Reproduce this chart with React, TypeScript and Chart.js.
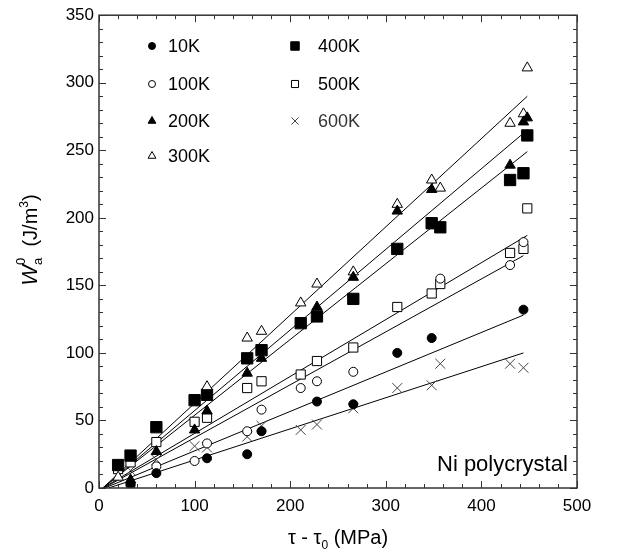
import React, { useEffect, useRef } from 'react';
import { Chart, registerables } from 'chart.js';
import { drawPoint } from 'chart.js/helpers';

Chart.register(...registerables);

const FONT = '"Liberation Sans", Arial, Helvetica, sans-serif';

// Series labels (temperatures)
const seriesLabels = ['10K', '100K', '200K', '300K', '400K', '500K', '600K'];

// Data (x = tau - tau0 in MPa, y = Wa0 in J/m^3)
const x10K = [33, 60, 113, 155, 170, 228, 266, 312, 348, 444];
const y10K = [3, 11, 22, 25, 42, 64, 62, 100, 111, 132];
const x100K = [33, 60, 100, 113, 155, 170, 211, 228, 266, 357, 430, 444];
const y100K = [2, 16, 20, 33, 42, 58, 74, 79, 86, 155, 165, 182];
const x200K = [33, 60, 100, 113, 155, 170, 228, 266, 312, 348, 430, 444, 448];
const y200K = [6, 27, 43, 57, 85, 96, 134, 156, 205, 221, 239, 271, 274];
const x300K = [20, 113, 155, 170, 211, 228, 266, 312, 348, 357, 430, 444, 448];
const y300K = [8, 75, 111, 116, 137, 151, 160, 210, 228, 222, 270, 277, 311];
const x400K = [20, 33, 60, 100, 113, 155, 170, 211, 228, 266, 312, 348, 357, 430, 444, 448];
const y400K = [17, 24, 45, 65, 69, 96, 102, 122, 127, 140, 177, 196, 193, 228, 233, 261];
const x500K = [20, 33, 60, 100, 113, 155, 170, 211, 228, 266, 312, 348, 357, 430, 444, 448];
const y500K = [14, 19, 34, 49, 52, 74, 79, 84, 94, 104, 134, 144, 151, 174, 177, 207];
const x600K = [20, 33, 60, 100, 113, 155, 170, 211, 228, 266, 312, 348, 357, 430, 444];
const y600K = [14, 13, 21, 31, 30, 38, 46, 43, 47, 59, 74, 76, 92, 92, 89];

// Fitted straight lines, endpoints (same order as labels)
const lineStartX = [6, 5, 4, 4, 4, 4, 10];
const lineStartY = [0, 0, 0, 0, 0, 0, 0];
const lineEndX = [444, 444, 448, 448, 448, 448, 444];
const lineEndY = [128, 172, 265, 290, 249, 187, 100];

// Axis ticks
const xTickStep = 100;
const xMinorStep = 20;
const yTickStep = 50;
const yMinorStep = 10;

const allX = [x10K, x100K, x200K, x300K, x400K, x500K, x600K];
const allY = [y10K, y100K, y200K, y300K, y400K, y500K, y600K];

type Style = { pointStyle: any; radius: number; bg: string; border: string; bw: number; legendRadius: number };
const styles: Style[] = [
  { pointStyle: 'circle', radius: 4.5, bg: '#000', border: '#000', bw: 1, legendRadius: 3.5 },
  { pointStyle: 'circle', radius: 4.5, bg: '#fff', border: '#000', bw: 1, legendRadius: 3.5 },
  { pointStyle: 'triangle', radius: 6, bg: '#000', border: '#000', bw: 1, legendRadius: 4.5 },
  { pointStyle: 'triangle', radius: 6, bg: '#fff', border: '#000', bw: 1, legendRadius: 4.5 },
  { pointStyle: 'rect', radius: 8, bg: '#000', border: '#000', bw: 1, legendRadius: 6 },
  { pointStyle: 'rect', radius: 6.5, bg: '#fff', border: '#000', bw: 1, legendRadius: 5 },
  { pointStyle: 'crossRot', radius: 7, bg: '#444', border: '#444', bw: 1, legendRadius: 5 },
];

// Legend layout: [marker x, text x] per column, row y
const legendCols = [[152, 168], [295, 318]];
const legendRows = [46, 84, 121, 156];

type Seg = { t: string; font: string; dy: number; stackWith?: { t: string; font: string; dy: number } };

function drawSegs(ctx: CanvasRenderingContext2D, segs: Seg[], cx: number, y: number) {
  const widths = segs.map((s) => {
    ctx.font = s.font;
    let w = ctx.measureText(s.t).width;
    if (s.stackWith) {
      ctx.font = s.stackWith.font;
      w = Math.max(w, ctx.measureText(s.stackWith.t).width);
    }
    return w;
  });
  const total = widths.reduce((a, b) => a + b, 0);
  let x = cx - total / 2;
  segs.forEach((s, i) => {
    ctx.font = s.font;
    ctx.fillText(s.t, x, y + s.dy);
    if (s.stackWith) {
      ctx.font = s.stackWith.font;
      ctx.fillText(s.stackWith.t, x, y + s.stackWith.dy);
    }
    x += widths[i];
  });
}

const decorPlugin = {
  id: 'decor',
  afterDraw(chart: any) {
    const ctx: CanvasRenderingContext2D = chart.ctx;
    const { left, right, top, bottom } = chart.chartArea;
    const xs = chart.scales.x;
    const ys = chart.scales.y;
    ctx.save();
    // frame
    ctx.strokeStyle = '#333';
    ctx.lineWidth = 1.5;
    ctx.strokeRect(left, top, right - left, bottom - top);
    ctx.lineWidth = 1;
    ctx.beginPath();
    for (let v = xs.min; v <= xs.max + 1e-9; v += xMinorStep) {
      const px = Math.round(xs.getPixelForValue(v)) + 0.5;
      const len = Math.abs(v % xTickStep) < 1e-9 ? 7 : 4;
      ctx.moveTo(px, bottom);
      ctx.lineTo(px, bottom - len);
      ctx.moveTo(px, top);
      ctx.lineTo(px, top + len);
    }
    for (let v = ys.min; v <= ys.max + 1e-9; v += yMinorStep) {
      const py = Math.round(ys.getPixelForValue(v)) + 0.5;
      const len = Math.abs(v % yTickStep) < 1e-9 ? 7 : 4;
      ctx.moveTo(left, py);
      ctx.lineTo(left + len, py);
      ctx.moveTo(right, py);
      ctx.lineTo(right - len, py);
    }
    ctx.stroke();

    // legend
    ctx.textBaseline = 'middle';
    ctx.textAlign = 'left';
    ctx.font = `18px ${FONT}`;
    seriesLabels.forEach((lab, i) => {
      const col = i < 4 ? 0 : 1;
      const row = i < 4 ? i : i - 4;
      const [mx, tx] = legendCols[col];
      const my = legendRows[row];
      const st = styles[i];
      ctx.save();
      ctx.fillStyle = st.bg;
      ctx.strokeStyle = st.border;
      ctx.lineWidth = st.bw;
      drawPoint(ctx, { pointStyle: st.pointStyle, radius: st.legendRadius, borderWidth: st.bw, rotation: 0 } as any, mx, my);
      ctx.restore();
      ctx.fillStyle = i === 6 ? '#333' : '#000';
      ctx.fillText(lab, tx, my + 1);
    });

    // annotation
    ctx.fillStyle = '#000';
    ctx.textBaseline = 'alphabetic';
    ctx.font = `22px ${FONT}`;
    ctx.fillText('Ni polycrystal', 437, 471);

    // x title
    const big = `20px ${FONT}`;
    const small = `12px ${FONT}`;
    drawSegs(
      ctx,
      [
        { t: '\u03c4 - \u03c4', font: big, dy: 0 },
        { t: '0', font: small, dy: 5 },
        { t: ' (MPa)', font: big, dy: 0 },
      ],
      338,
      544
    );

    // y title
    ctx.save();
    ctx.translate(29, 240);
    ctx.rotate(-Math.PI / 2);
    drawSegs(
      ctx,
      [
        { t: 'W', font: `italic 22px ${FONT}`, dy: 0 },
        { t: 'a', font: `13px ${FONT}`, dy: 5, stackWith: { t: '0', font: `13px ${FONT}`, dy: -12 } },
        { t: '  (J/m', font: big, dy: 0 },
        { t: '3', font: small, dy: -9 },
        { t: ')', font: big, dy: 0 },
      ],
      0,
      8
    );
    ctx.restore();
    ctx.restore();
  },
};

export default function App() {
  const ref = useRef<HTMLCanvasElement | null>(null);
  useEffect(() => {
    if (!ref.current) return;
    const pointSets = seriesLabels.map((lab, i) => {
      const st = styles[i];
      return {
        label: lab,
        data: allX[i].map((x, j) => ({ x, y: allY[i][j] })),
        showLine: false,
        pointStyle: st.pointStyle,
        pointRadius: st.radius,
        pointHoverRadius: st.radius,
        backgroundColor: st.bg,
        borderColor: st.border,
        pointBorderWidth: st.bw,
        order: 0,
      };
    });
    const lineSets = seriesLabels.map((lab, i) => ({
      label: lab + ' fit',
      data: [
        { x: lineStartX[i], y: lineStartY[i] },
        { x: lineEndX[i], y: lineEndY[i] },
      ],
      showLine: true,
      pointRadius: 0,
      borderColor: '#000',
      borderWidth: 1,
      backgroundColor: '#000',
      order: 1,
    }));
    const chart = new Chart(ref.current, {
      type: 'scatter',
      data: { datasets: [...lineSets, ...pointSets] as any },
      options: {
        animation: false,
        responsive: false,
        maintainAspectRatio: false,
        layout: { padding: { top: 14, right: 45, left: 0, bottom: 0 } },
        plugins: { legend: { display: false }, tooltip: { enabled: false }, title: { display: false } },
        scales: {
          x: {
            type: 'linear',
            min: 0,
            max: 500,
            grid: { display: false, drawTicks: false },
            border: { display: false },
            ticks: { stepSize: xTickStep, color: '#000', font: { family: FONT, size: 17 }, padding: 8, maxRotation: 0 },
            afterFit: (s: any) => {
              s.height = 64;
            },
          },
          y: {
            type: 'linear',
            min: 0,
            max: 350,
            grid: { display: false, drawTicks: false },
            border: { display: false },
            ticks: { stepSize: yTickStep, color: '#000', font: { family: FONT, size: 17 }, padding: 5 },
            afterFit: (s: any) => {
              s.width = 99;
            },
          },
        },
      },
      plugins: [decorPlugin],
    });
    return () => chart.destroy();
  }, []);
  return (
    <div style={{ position: 'absolute', left: 0, top: 0, width: 622, height: 552, background: '#fff' }}>
      <canvas ref={ref} width={622} height={552} style={{ display: 'block' }} />
    </div>
  );
}
